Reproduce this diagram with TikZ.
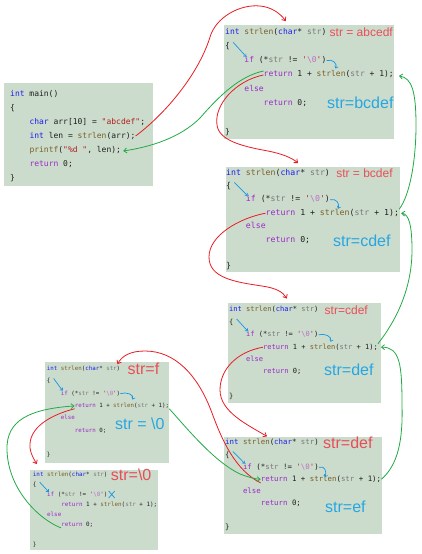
\documentclass[tikz,border=0pt]{standalone}
\usepackage{fontspec}
\setmonofont{DejaVu Sans Mono}
\setsansfont{Liberation Sans}
\usepackage{tikz}
\usetikzlibrary{arrows.meta,positioning,calc}

\definecolor{panelbg}{RGB}{204,220,204}
\definecolor{codeink}{RGB}{30,30,30}
\definecolor{kwblue}{RGB}{30,30,235}
\definecolor{ctpurple}{RGB}{155,40,200}
\definecolor{fnbrown}{RGB}{121,94,38}
\definecolor{vargray}{RGB}{120,120,120}
\definecolor{strred}{RGB}{175,30,30}
\definecolor{escpink}{RGB}{190,110,200}
\definecolor{argred}{RGB}{232,78,88}
\definecolor{nowblue}{RGB}{38,166,226}
\definecolor{callred}{RGB}{232,28,36}
\definecolor{backgreen}{RGB}{34,170,70}
\definecolor{hintblue}{RGB}{20,150,230}

\newcommand{\ckw}[1]{\textcolor{kwblue}{#1}}
\newcommand{\cct}[1]{\textcolor{ctpurple}{#1}}
\newcommand{\cfn}[1]{\textcolor{fnbrown}{#1}}
\newcommand{\cvar}[1]{\textcolor{vargray}{#1}}
\newcommand{\cstr}[1]{\textcolor{strred}{#1}}
\newcommand{\cesc}[1]{\textcolor{escpink}{#1}}

\tikzset{
  panel/.style={fill=panelbg, inner sep=0pt, anchor=north west},
  code/.style={anchor=west, inner sep=0pt, text=codeink},
  arg/.style={font=\sffamily\fontsize{#1}{#1}\selectfont, text=argred, inner sep=0pt},
  arg/.default=12,
  now/.style={font=\sffamily\fontsize{16}{16}\selectfont, text=nowblue, anchor=west, inner sep=0pt},
  call/.style={draw=callred, line width=0.8pt, -{Straight Barb[length=3pt,width=5pt]}},
  back/.style={draw=backgreen, line width=0.8pt, -{Straight Barb[length=3pt,width=5pt]}},
  hint/.style={draw=hintblue, line width=0.7pt, -{Straight Barb[length=2pt,width=3.5pt]}},
}

% one strlen frame: name, left x, first row y, row step, font size
\newcommand{\strlencode}[5]{%
  \begin{scope}[every node/.append style={code, font=\ttfamily\fontsize{#5}{#5}\selectfont, text height=#5*0.72pt, text depth=#5*0.2pt}]
    \node (#1-sig)   at (#2, #3)               {\ckw{int} \cfn{strlen}(\ckw{char}* \cvar{str})};
    \node (#1-open)  at (#2, #3+#4)            {\{};
    \node (#1-if)    at (#2+2.408*#5, #3+2*#4) {\cct{if} (*\cvar{str} != \cstr{\textquotesingle\cesc{\textbackslash0}\textquotesingle})};
    \node (#1-ret)   at (#2+4.816*#5, #3+3*#4) {\cct{return} 1 + \cfn{strlen}(\cvar{str} + 1);};
    \node (#1-else)  at (#2+2.408*#5, #3+4*#4) {\cct{else}};
    \node (#1-ret0)  at (#2+4.816*#5, #3+5*#4) {\cct{return} 0;};
    \node (#1-close) at (#2, #3+7*#4)          {\}};
  \end{scope}}

\begin{document}
\begin{tikzpicture}[x=1pt, y=-1pt]
\fill[white] (0,0) rectangle (422,554);
\useasboundingbox (0,0) rectangle (422,554);

% frames
\node[panel, minimum width=149pt, minimum height=103pt] (main) at (4,83) {};
\node[panel, minimum width=170pt, minimum height=114pt] (lv1) at (224,25) {};
\node[panel, minimum width=174pt, minimum height=105pt] (lv2) at (226,167) {};
\node[panel, minimum width=153pt, minimum height=100pt] (lv3) at (228,303) {};
\node[panel, minimum width=158pt, minimum height=97pt] (lv4) at (224,437) {};
\node[panel, minimum width=124pt, minimum height=101pt] (lv5) at (45,362) {};
\node[panel, minimum width=128pt, minimum height=80pt] (lv6) at (30,470) {};

% main()
\begin{scope}[every node/.append style={code, font=\ttfamily\fontsize{8}{8}\selectfont, text height=5.76pt, text depth=1.6pt}]
  \node (main-sig)   at (10,94)    {\ckw{int} main()};
  \node (main-open)  at (10,108)   {\{};
  \node (main-arr)   at (29.3,122) {\ckw{char} arr[10] = \cstr{"abcdef"};};
  \node (main-len)   at (29.3,136) {\ckw{int} len = \cfn{strlen}(arr);};
  \node (main-out)   at (29.3,150) {\cfn{printf}(\cstr{"\%d "}, len);};
  \node (main-ret)   at (29.3,164) {\cct{return} 0;};
  \node (main-close) at (10,178)   {\}};
\end{scope}

% recursive frames
\strlencode{lv1}{225}{32}{14.3}{8}
\strlencode{lv2}{226}{173}{13.4}{8.2}
\strlencode{lv3}{229}{310}{12.4}{7.05}
\strlencode{lv4}{225}{443}{12.1}{7.4}
\strlencode{lv5}{46.7}{369}{12.3}{5.8}
\strlencode{lv6}{32.7}{475}{10}{5.9}

% argument of each call
\node[arg=12, right=3pt of lv1-sig] (lv1-arg) {str = abcedf};
\node[arg=12, right=6pt of lv2-sig] (lv2-arg) {str = bcdef};
\node[arg=12, right=6pt of lv3-sig] (lv3-arg) {str=cdef};
\node[arg=16, right=4pt of lv4-sig] (lv4-arg) {str=def};
\node[arg=16, right=7pt of lv5-sig] (lv5-arg) {str=f};
\node[arg=16, right=3pt of lv6-sig] (lv6-arg) {str=\textbackslash 0};

% value passed on
\node[now] (lv1-now) at (327,103) {str=bcdef};
\node[now] (lv2-now) at (333,241) {str=cdef};
\node[now] (lv3-now) at (324,370) {str=def};
\node[now] (lv4-now) at (325,507) {str=ef};
\node[now] (lv5-now) at (115,424) {str = \textbackslash 0};

% blue hints
\foreach \b in {lv1,lv2,lv3,lv4,lv5,lv6}
  \draw[hint] ($(\b-open.north east)+(3,0)$) -- ($(\b-if.north west)+(2,0)$);
\foreach \b/\dx/\dy in {lv1/9/8, lv2/8/9, lv3/12/7, lv4/6/10, lv5/12/6}
  \draw[hint] (\b-if.east) .. controls +(6,-2) and +(2,-5) .. ($(\b-if.east)+(\dx,\dy)$);
\draw[hintblue, line width=0.7pt] ($(lv6-if.east)+(1,-4)$) -- ++(6,7)
  ($(lv6-if.east)+(1,3)$) -- ++(6,-7);

% calls
\draw[call] (main-len.east) .. controls (170,110) and (200,70) .. (210,37)
  .. controls (216,17) and (240,4) .. (260,6)
  .. controls (271,7) and (280,13) .. ($(lv1-sig.north)+(10,-7)$);
\draw[call] (lv1-ret.west) .. controls (235,81) and (214,105) .. (217,125)
  .. controls (219,140) and (240,146) .. (268,151)
  .. controls (283,154) and (292,158) .. ($(lv2-sig.north)+(20,-6)$);
\draw[call] (lv2-ret.west) .. controls (240,218) and (209,235) .. (209,257)
  .. controls (209,278) and (235,282) .. (262,286)
  .. controls (276,288) and (283,292) .. ($(lv3-sig.north)+(13,-8)$);
\draw[call] (lv3-ret.west) .. controls (236,352) and (220,370) .. (220,390)
  .. controls (220,412) and (248,425) .. ($(lv4-sig.north)+(-5,-3)$);
\draw[call] (lv4-ret.south west) .. controls (235,470) and (222,440) .. (212,413)
  .. controls (198,375) and (175,351) .. (145,351)
  .. controls (130,351) and (122,356) .. ($(lv5-sig.north east)+(-3,-2)$);
\draw[call] (lv5-ret.south west) .. controls (50,415) and (28,428) .. (30,448)
  .. controls (31,455) and (34,459) .. ($(lv6-sig.north west)+(4,-8)$);

% returns
\draw[back] (lv1-ret.north west) .. controls (240,76) and (220,95) .. (200,118)
  .. controls (180,138) and (150,147) .. ($(main-out.east)+(2,1)$);
\draw[back] (lv2-ret.north east) .. controls (410,195) and (416,160) .. (416,125)
  .. controls (416,92) and (412,78) .. ($(lv1-ret.east)+(5,1)$);
\draw[back] (lv3-ret.north east) .. controls (395,322) and (412,290) .. (412,250)
  .. controls (412,226) and (409,214) .. ($(lv2-ret.east)+(2,0)$);
\draw[back] (lv4-ret.east) .. controls (398,465) and (403,440) .. (402,405)
  .. controls (402,365) and (400,347) .. ($(lv3-ret.east)+(3,0)$);
\draw[back] (lv5-ret.south east) .. controls (190,432) and (215,462) .. (240,474)
  .. controls (248,477) and (255,479) .. (lv4-ret.west);
\draw[back] (lv6-ret0.south west) .. controls (40,520) and (8,490) .. (7,450)
  .. controls (6,420) and (30,409) .. (lv5-ret.west);
\end{tikzpicture}
\end{document}
